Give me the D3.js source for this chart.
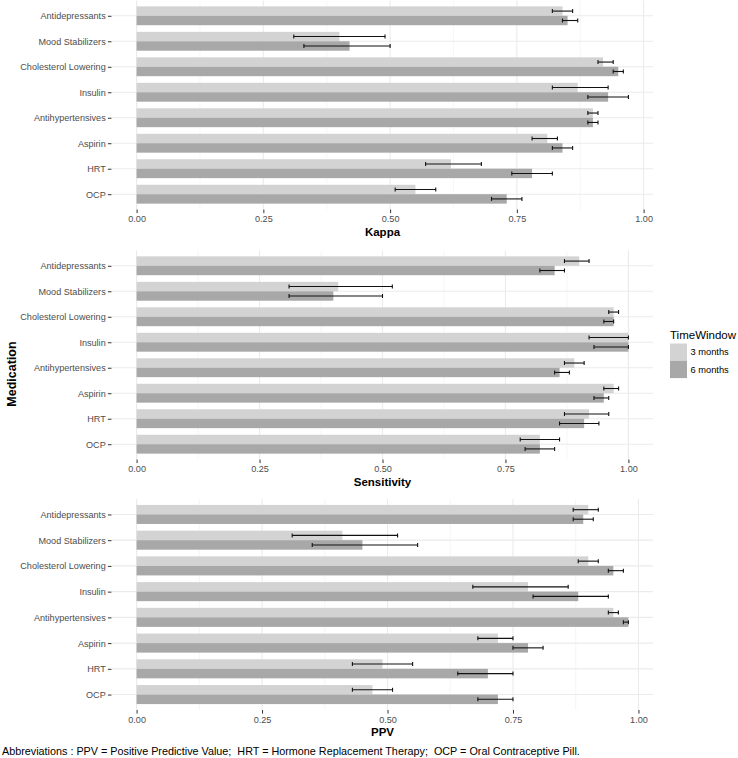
<!DOCTYPE html>
<html>
<head>
<meta charset="utf-8">
<script src="https://cdn.jsdelivr.net/npm/d3@7"></script>
<style>
  html, body { margin: 0; padding: 0; background: #fff; }
  svg { display: block; }
  text { font-family: "Liberation Sans", Arial, Helvetica, sans-serif; }
</style>
</head>
<body>
<svg id="chart" width="738" height="758"></svg>
<script>
// ---------------- DATA ----------------
const categories = ["Antidepressants", "Mood Stabilizers", "Cholesterol Lowering", "Insulin",
                    "Antihypertensives", "Aspirin", "HRT", "OCP"];
const timeWindows = ["3 months", "6 months"];
const xTicks = [0, 0.25, 0.5, 0.75, 1.0];

// Kappa
const kappa3   = [0.84, 0.40, 0.92, 0.87, 0.90, 0.81, 0.62, 0.55];
const kappa3Lo = [0.82, 0.31, 0.91, 0.82, 0.89, 0.78, 0.57, 0.51];
const kappa3Hi = [0.86, 0.49, 0.94, 0.93, 0.91, 0.83, 0.68, 0.59];
const kappa6   = [0.85, 0.42, 0.95, 0.93, 0.90, 0.84, 0.78, 0.73];
const kappa6Lo = [0.84, 0.33, 0.94, 0.89, 0.89, 0.82, 0.74, 0.70];
const kappa6Hi = [0.87, 0.50, 0.96, 0.97, 0.91, 0.86, 0.82, 0.76];

// Sensitivity
const sens3   = [0.90, 0.41, 0.97, 1.00, 0.89, 0.97, 0.92, 0.82];
const sens3Lo = [0.87, 0.31, 0.96, 0.92, 0.87, 0.95, 0.87, 0.78];
const sens3Hi = [0.92, 0.52, 0.98, 1.00, 0.91, 0.98, 0.96, 0.86];
const sens6   = [0.85, 0.40, 0.97, 1.00, 0.86, 0.95, 0.91, 0.82];
const sens6Lo = [0.82, 0.31, 0.95, 0.93, 0.85, 0.93, 0.86, 0.79];
const sens6Hi = [0.87, 0.50, 0.97, 1.00, 0.88, 0.96, 0.94, 0.85];

// PPV
const ppv3   = [0.90, 0.41, 0.90, 0.78, 0.95, 0.72, 0.49, 0.47];
const ppv3Lo = [0.87, 0.31, 0.88, 0.67, 0.94, 0.68, 0.43, 0.43];
const ppv3Hi = [0.92, 0.52, 0.92, 0.86, 0.96, 0.75, 0.55, 0.51];
const ppv6   = [0.89, 0.45, 0.95, 0.88, 0.98, 0.78, 0.70, 0.72];
const ppv6Lo = [0.87, 0.35, 0.94, 0.79, 0.97, 0.75, 0.64, 0.68];
const ppv6Hi = [0.91, 0.56, 0.97, 0.94, 0.98, 0.81, 0.75, 0.75];

const panelTitles = ["Kappa", "Sensitivity", "PPV"];
const footnote = "Abbreviations : PPV = Positive Predictive Value;  HRT = Hormone Replacement Therapy;  OCP = Oral Contraceptive Pill.";

// ---------------- STYLE / LAYOUT ----------------
const fills = ["#d3d3d3", "#a8a8a8"];
const panelLeft = 112, panelRight = 653;
const panelBoxes = [
  { top: 0.5, bottom: 209.5 },
  { top: 250.5, bottom: 459.5 },
  { top: 499, bottom: 710 }
];
const panels = [
  { title: panelTitles[0], series: [[kappa3, kappa3Lo, kappa3Hi], [kappa6, kappa6Lo, kappa6Hi]] },
  { title: panelTitles[1], series: [[sens3, sens3Lo, sens3Hi], [sens6, sens6Lo, sens6Hi]] },
  { title: panelTitles[2], series: [[ppv3, ppv3Lo, ppv3Hi], [ppv6, ppv6Lo, ppv6Hi]] }
];

const svg = d3.select("#chart");
svg.append("rect").attr("width", 738).attr("height", 758).attr("fill", "#fff");

panels.forEach((p, pi) => {
  const box = panelBoxes[pi];
  const span = d3.max(p.series.flatMap(s => s[2].concat(s[0])));
  const x = d3.scaleLinear()
    .domain([-0.05 * span, 1.05 * span])
    .range([panelLeft, panelRight]);
  const y = d3.scalePoint()
    .domain(categories)
    .range([box.top, box.bottom])
    .padding(0.6);
  const step = y.step();
  const groupH = step * 0.74;
  const barH = groupH / 2;

  const g = svg.append("g");

  // minor vertical gridlines
  const minor = xTicks.slice(0, -1).map((t, i) => (t + xTicks[i + 1]) / 2);
  g.selectAll(".minor").data(minor).enter().append("line")
    .attr("x1", d => x(d)).attr("x2", d => x(d))
    .attr("y1", box.top).attr("y2", box.bottom)
    .attr("stroke", "#f0f0f0").attr("stroke-width", 0.6);
  // major vertical gridlines
  g.selectAll(".vmajor").data(xTicks).enter().append("line")
    .attr("x1", d => x(d)).attr("x2", d => x(d))
    .attr("y1", box.top).attr("y2", box.bottom)
    .attr("stroke", "#ebebeb").attr("stroke-width", 1.1);
  // horizontal gridlines
  g.selectAll(".hmajor").data(categories).enter().append("line")
    .attr("x1", panelLeft).attr("x2", panelRight)
    .attr("y1", d => y(d)).attr("y2", d => y(d))
    .attr("stroke", "#ebebeb").attr("stroke-width", 1.1);

  // bars
  p.series.forEach((s, si) => {
    const vals = s[0];
    g.selectAll(".bar" + si).data(categories).enter().append("rect")
      .attr("x", x(0))
      .attr("y", (d) => y(d) - groupH / 2 + si * barH)
      .attr("width", (d, i) => x(vals[i]) - x(0))
      .attr("height", barH)
      .attr("fill", fills[si]);
  });

  // error bars
  p.series.forEach((s, si) => {
    const lo = s[1], hi = s[2];
    const eg = g.append("g").attr("stroke", "#111").attr("stroke-width", 1.1);
    categories.forEach((c, i) => {
      const cy = y(c) - groupH / 2 + si * barH + barH / 2;
      eg.append("line").attr("x1", x(lo[i])).attr("x2", x(hi[i])).attr("y1", cy).attr("y2", cy);
      eg.append("line").attr("x1", x(lo[i])).attr("x2", x(lo[i])).attr("y1", cy - 2).attr("y2", cy + 2);
      eg.append("line").attr("x1", x(hi[i])).attr("x2", x(hi[i])).attr("y1", cy - 2).attr("y2", cy + 2);
    });
  });

  // y axis
  const yAxis = d3.axisLeft(y).tickSize(3.6).tickPadding(2.2);
  const ya = svg.append("g").attr("transform", `translate(${panelLeft - 0.5},0)`).call(yAxis);
  ya.select(".domain").remove();
  ya.selectAll(".tick line").attr("stroke", "#333").attr("stroke-width", 1);
  ya.selectAll(".tick text").attr("fill", "#4d4d4d").attr("font-size", "9.1px")
    .style("font-family", '"Liberation Sans", Arial, sans-serif');

  // x axis
  const xAxis = d3.axisBottom(x).tickValues(xTicks).tickFormat(d3.format(".2f")).tickSize(3.6).tickPadding(2.6);
  const xa = svg.append("g").attr("transform", `translate(0,${box.bottom})`).call(xAxis);
  xa.select(".domain").remove();
  xa.selectAll(".tick line").attr("stroke", "#333").attr("stroke-width", 1);
  xa.selectAll(".tick text").attr("fill", "#4d4d4d").attr("font-size", "9.1px")
    .style("font-family", '"Liberation Sans", Arial, sans-serif');

  // axis title
  svg.append("text")
    .attr("x", (panelLeft + panelRight) / 2)
    .attr("y", box.bottom + 22)
    .attr("dy", "0.35em")
    .attr("text-anchor", "middle")
    .attr("font-size", "11.5px").attr("font-weight", "bold").attr("fill", "#000")
    .text(p.title);
});

// Medication label
svg.append("text")
  .attr("transform", "translate(12,374) rotate(-90)")
  .attr("dy", "0.35em")
  .attr("text-anchor", "middle")
  .attr("font-size", "12.5px").attr("font-weight", "bold").attr("fill", "#000")
  .text("Medication");

// Legend
const lg = svg.append("g").attr("transform", "translate(670,0)");
lg.append("text").attr("x", 0).attr("y", 335).attr("dy", "0.35em")
  .attr("font-size", "11.5px").attr("fill", "#000").text("TimeWindow");
timeWindows.forEach((tw, i) => {
  lg.append("rect").attr("x", 0).attr("y", 343.5 + i * 17.3).attr("width", 17).attr("height", 17.3)
    .attr("fill", fills[i]);
  lg.append("text").attr("x", 20.5).attr("y", 352.2 + i * 17.3).attr("dy", "0.35em")
    .attr("font-size", "9.3px").attr("fill", "#000").text(tw);
});

// Footnote
svg.append("text").attr("x", 2).attr("y", 751).attr("dy", "0.35em")
  .attr("font-size", "10.8px").attr("fill", "#000")
  .attr("xml:space", "preserve").style("white-space", "pre")
  .text(footnote);
</script>
</body>
</html>
